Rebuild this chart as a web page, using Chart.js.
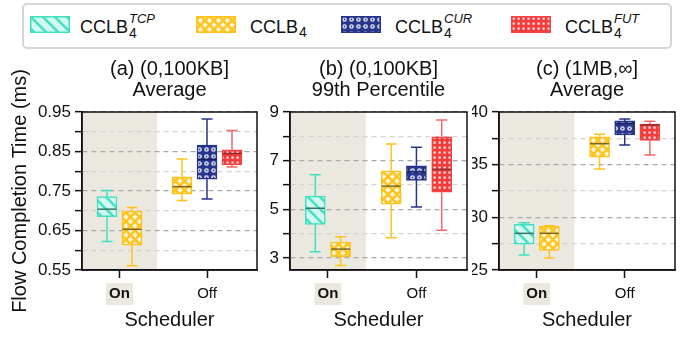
<!DOCTYPE html>
<html>
<head>
<meta charset="utf-8">
<script src="https://cdn.jsdelivr.net/npm/chart.js@4.4.0/dist/chart.umd.min.js"></script>
<style>
  body { margin: 0; background: #fff; font-family: "Liberation Sans", Arial, sans-serif; color: #111; }
  #wrap { position: relative; width: 694px; height: 337px; overflow: hidden; }
  .panel { position: absolute; top: 55px; height: 282px; }
  #legend { position: absolute; left: 22px; top: 3px; width: 650px; height: 46px;
            border: 2px solid #d6d6d6; border-radius: 5px; box-sizing: border-box; }
  .sw { position: absolute; top: 16px; }
  .lab { position: absolute; top: 18px; font-size: 18px; line-height: 18px; white-space: nowrap; }
  .ss { display: inline-flex; flex-direction: column; position: relative; top: -10px; margin-left: 1px; }
  .ss .sup { font-size: 13px; line-height: 14px; font-style: italic; }
  .ss .sub { font-size: 14px; line-height: 14px; }
  .sb { font-size: 14px; position: relative; top: 4px; margin-left: 1px; }
</style>
</head>
<body>
<div id="wrap">
  <div id="legend"></div>
  <canvas class="sw" id="sw0" width="40" height="17" style="left:30px"></canvas>
  <span class="lab" style="left:80px">CCLB<span class="ss"><span class="sup">TCP</span><span class="sub">4</span></span></span>
  <canvas class="sw" id="sw1" width="40" height="17" style="left:196px"></canvas>
  <span class="lab" style="left:250px">CCLB<span class="sb">4</span></span>
  <canvas class="sw" id="sw2" width="40" height="17" style="left:341px"></canvas>
  <span class="lab" style="left:395px">CCLB<span class="ss"><span class="sup">CUR</span><span class="sub">4</span></span></span>
  <canvas class="sw" id="sw3" width="40" height="17" style="left:511px"></canvas>
  <span class="lab" style="left:565px">CCLB<span class="ss"><span class="sup">FUT</span><span class="sub">4</span></span></span>

  <div class="panel" style="left:0px; width:262px"><canvas id="chartA"></canvas></div>
  <div class="panel" style="left:262px; width:210px"><canvas id="chartB"></canvas></div>
  <div class="panel" style="left:472px; width:222px"><canvas id="chartC"></canvas></div>
</div>
<script>
"use strict";

// categories
const schedulers = ['On', 'Off'];
const seriesNames = ['CCLB4 TCP', 'CCLB4', 'CCLB4 CUR', 'CCLB4 FUT'];
// boxes left to right: TCP/On, CCLB4/On, CCLB4/Off, CUR/Off, FUT/Off
const boxSeries = [0, 1, 1, 2, 3];

// (a) (0,100KB] Average
const aLow  = [0.622, 0.561, 0.726, 0.730, 0.811];
const aQ1   = [0.685, 0.613, 0.742, 0.780, 0.816];
const aMed  = [0.704, 0.653, 0.761, 0.830, 0.845];
const aQ3   = [0.736, 0.699, 0.786, 0.866, 0.854];
const aHigh = [0.751, 0.708, 0.831, 0.932, 0.903];

// (b) (0,100KB] 99th Percentile
const bLow  = [3.25, 2.69, 3.83, 5.09, 4.14];
const bQ1   = [4.38, 3.05, 5.21, 6.19, 5.70];
const bMed  = [5.04, 3.36, 5.95, 6.54, 6.64];
const bQ3   = [5.54, 3.65, 6.58, 6.79, 7.98];
const bHigh = [6.42, 3.87, 7.68, 7.55, 8.67];

// (c) (1MB,inf] Average
const cLow  = [26.42, 26.13, 34.59, 36.87, 35.92];
const cQ1   = [27.46, 26.87, 35.70, 37.82, 37.31];
const cMed  = [28.48, 28.48, 36.99, 38.93, 38.77];
const cQ3   = [29.33, 29.15, 37.65, 39.15, 38.86];
const cHigh = [29.49, 29.20, 37.88, 39.34, 39.12];

// y tick values and labels
const aTicks = [0.55, 0.6, 0.65, 0.7, 0.75, 0.8, 0.85, 0.9, 0.95];
const aTickLabels = ['0.55', '', '0.65', '', '0.75', '', '0.85', '', '0.95'];
const bTicks = [3, 4, 5, 6, 7, 8, 9];
const bTickLabels = ['3', '', '5', '', '7', '', '9'];
const cTicks = [25, 27.5, 30, 32.5, 35, 37.5, 40];
const cTickLabels = ['25', '', '30', '', '35', '', '40'];

// layout on the x axis (box slots, group centers, shaded "On" band)
const slotX = [1, 2, 4, 5, 6];
const groupX = [1.5, 5];
const shadeEnd = 3;

Chart.defaults.font.family = '"Liberation Sans", Arial, sans-serif';
Chart.defaults.color = '#111';

// fill patterns
function makePattern(kind) {
    const t = document.createElement('canvas');
    const g = t.getContext('2d');
    if (kind === 'hatch') {
        t.width = t.height = 12;
        g.fillStyle = '#d4f8ef';
        g.fillRect(0, 0, 12, 12);
        g.strokeStyle = '#41e3c3';
        g.lineWidth = 2.6;
        g.beginPath();
        g.moveTo(-2, -2); g.lineTo(14, 14);
        g.moveTo(-14, -2); g.lineTo(2, 14);
        g.moveTo(10, -2); g.lineTo(26, 14);
        g.stroke();
    } else if (kind === 'diamond') {
        t.width = t.height = 9;
        g.fillStyle = '#ffc51e';
        g.fillRect(0, 0, 9, 9);
        g.fillStyle = '#fff6dc';
        const d = (cx, cy) => {
            g.beginPath();
            g.moveTo(cx, cy - 2.7); g.lineTo(cx + 2.7, cy);
            g.lineTo(cx, cy + 2.7); g.lineTo(cx - 2.7, cy);
            g.closePath(); g.fill();
        };
        d(4.5, 4.5); d(0, 0); d(9, 0); d(0, 9); d(9, 9);
    } else if (kind === 'dots') {
        t.width = t.height = 7;
        g.fillStyle = '#28368c';
        g.fillRect(0, 0, 7, 7);
        g.fillStyle = '#e8eaf6';
        g.beginPath(); g.arc(3.5, 3.5, 2.3, 0, Math.PI * 2); g.fill();
        g.fillStyle = '#28368c';
        g.beginPath(); g.arc(3.5, 3.5, 0.9, 0, Math.PI * 2); g.fill();
    } else {
        t.width = t.height = 5;
        g.fillStyle = '#f23c3c';
        g.fillRect(0, 0, 5, 5);
        g.fillStyle = '#ffe6e6';
        g.fillRect(1.5, 1.5, 2.2, 2.2);
    }
    return g.createPattern(t, 'repeat');
}

const seriesStyle = [
    { fill: makePattern('hatch'),   border: '#3fe0c0', whisker: '#3fe0c0', median: '#3a7468' },
    { fill: makePattern('diamond'), border: '#ffc21a', whisker: '#ffc21a', median: '#7a6420' },
    { fill: makePattern('dots'),    border: '#26338a', whisker: '#26338a', median: '#1a2360' },
    { fill: makePattern('squares'), border: '#f24444', whisker: '#f26868', median: '#8e2a2a' }
];
const shadeColor = '#ebe8e0';

// legend swatches
seriesStyle.forEach((s, i) => {
    const g = document.getElementById('sw' + i).getContext('2d');
    g.fillStyle = s.fill;
    g.fillRect(0, 0, 40, 17);
    g.strokeStyle = s.border;
    g.lineWidth = 1.5;
    g.strokeRect(0.75, 0.75, 38.5, 15.5);
});

// shaded band, whiskers, medians, frame
function boxPlugin(st) {
    return {
        id: 'boxWhiskers',
        beforeDraw(chart) {
            const { ctx, chartArea: a, scales: { x } } = chart;
            const x0 = x.getPixelForValue(0), x1 = x.getPixelForValue(shadeEnd);
            ctx.save();
            ctx.fillStyle = shadeColor;
            ctx.fillRect(x0, a.top, x1 - x0, a.bottom - a.top);
            ctx.restore();
        },
        afterDatasetsDraw(chart) {
            const { ctx, scales: { x, y } } = chart;
            ctx.save();
            ctx.lineWidth = 1.5;
            for (let i = 0; i < slotX.length; i++) {
                const s = seriesStyle[boxSeries[i]];
                const cx = x.getPixelForValue(slotX[i]);
                const yl = y.getPixelForValue(st.low[i]), y1 = y.getPixelForValue(st.q1[i]);
                const y3 = y.getPixelForValue(st.q3[i]), yh = y.getPixelForValue(st.high[i]);
                const ym = y.getPixelForValue(st.med[i]);
                ctx.strokeStyle = s.whisker;
                ctx.beginPath();
                ctx.moveTo(cx, y3); ctx.lineTo(cx, yh);
                ctx.moveTo(cx - 5.5, yh); ctx.lineTo(cx + 5.5, yh);
                ctx.moveTo(cx, y1); ctx.lineTo(cx, yl);
                ctx.moveTo(cx - 5.5, yl); ctx.lineTo(cx + 5.5, yl);
                ctx.stroke();
                ctx.strokeStyle = s.median;
                ctx.beginPath();
                ctx.moveTo(cx - 9.5, ym); ctx.lineTo(cx + 9.5, ym);
                ctx.stroke();
            }
            ctx.restore();
        },
        afterDraw(chart) {
            const { ctx, chartArea: a } = chart;
            ctx.save();
            ctx.strokeStyle = '#111';
            ctx.lineWidth = 1.5;
            ctx.strokeRect(a.left, a.top, a.right - a.left, a.bottom - a.top);
            ctx.restore();
        }
    };
}

function makeChart(id, p) {
    const st = p.stats;
    const datasets = seriesNames.map((name, si) => ({
        label: name,
        data: slotX.map((sx, i) => ({ x: sx, y: [st.q1[i], st.q3[i]], s: boxSeries[i] }))
                   .filter(d => d.s === si),
        backgroundColor: seriesStyle[si].fill,
        borderColor: seriesStyle[si].border,
        borderWidth: 1.5,
        borderSkipped: false,
        grouped: false,
        barThickness: 20
    }));

    const labelled = (i) => p.tickLabels[i] !== '';
    return new Chart(document.getElementById(id), {
        type: 'bar',
        data: { datasets: datasets },
        options: {
            responsive: true,
            maintainAspectRatio: false,
            animation: false,
            layout: { padding: { left: 0, right: p.padRight, top: 0, bottom: 0 } },
            plugins: {
                legend: { display: false },
                tooltip: { enabled: false },
                title: {
                    display: true,
                    text: p.title,
                    fullSize: false,
                    font: { size: 20, weight: 'normal', lineHeight: 1.05 },
                    color: '#111',
                    padding: { top: 4, bottom: 11 }
                }
            },
            scales: {
                x: {
                    type: 'linear',
                    min: 0,
                    max: 7,
                    offset: false,
                    afterBuildTicks: (s) => { s.ticks = groupX.map(v => ({ value: v })); },
                    afterFit: (s) => { s.height = 67; },
                    ticks: {
                        callback: (v, i) => schedulers[i],
                        font: (c) => ({ size: 15, weight: c.index === 0 ? 'bold' : 'normal' }),
                        color: '#111',
                        padding: 7,
                        maxRotation: 0,
                        showLabelBackdrop: (c) => c.index === 0,
                        backdropColor: shadeColor,
                        backdropPadding: { x: 3, y: 2 }
                    },
                    grid: { offset: false, drawOnChartArea: false, drawTicks: true, tickLength: 8, tickColor: '#111', tickWidth: 1.5 },
                    border: { color: '#111', width: 1.5 },
                    title: { display: true, text: 'Scheduler', font: { size: 20 }, color: '#111', padding: { top: 0, bottom: 5 } }
                },
                y: {
                    min: p.min,
                    max: p.max,
                    afterBuildTicks: (s) => { s.ticks = p.ticks.map(v => ({ value: v })); },
                    afterFit: (s) => { s.width = p.axisWidth; },
                    ticks: {
                        callback: (v, i) => p.tickLabels[i],
                        font: { size: 17 },
                        color: '#111',
                        padding: 4,
                        autoSkip: false
                    },
                    grid: {
                        color: (c) => labelled(c.index) ? '#a9a9a9' : '#d2d2d2',
                        lineWidth: 1.3,
                        borderDash: [5, 4],
                        drawTicks: true,
                        tickLength: 7,
                        tickColor: '#111',
                        tickWidth: 1.5
                    },
                    border: { color: '#111', width: 1.5, dash: [5, 4] },
                    title: {
                        display: p.yTitle,
                        text: 'Flow Completion Time (ms)',
                        font: { size: 20 },
                        color: '#111',
                        padding: { top: 8, bottom: 0 }
                    }
                }
            }
        },
        plugins: [boxPlugin(st)]
    });
}

makeChart('chartA', {
    title: ['(a) (0,100KB]', 'Average'],
    stats: { low: aLow, q1: aQ1, med: aMed, q3: aQ3, high: aHigh },
    min: 0.55, max: 0.95, ticks: aTicks, tickLabels: aTickLabels,
    axisWidth: 82, padRight: 5, yTitle: true
});
makeChart('chartB', {
    title: ['(b) (0,100KB]', '99th Percentile'],
    stats: { low: bLow, q1: bQ1, med: bMed, q3: bQ3, high: bHigh },
    min: 2.5, max: 9, ticks: bTicks, tickLabels: bTickLabels,
    axisWidth: 28, padRight: 5, yTitle: false
});
makeChart('chartC', {
    title: ['(c) (1MB,\u221e]', 'Average'],
    stats: { low: cLow, q1: cQ1, med: cMed, q3: cQ3, high: cHigh },
    min: 25, max: 40, ticks: cTicks, tickLabels: cTickLabels,
    axisWidth: 27, padRight: 19, yTitle: false
});
</script>
</body>
</html>
